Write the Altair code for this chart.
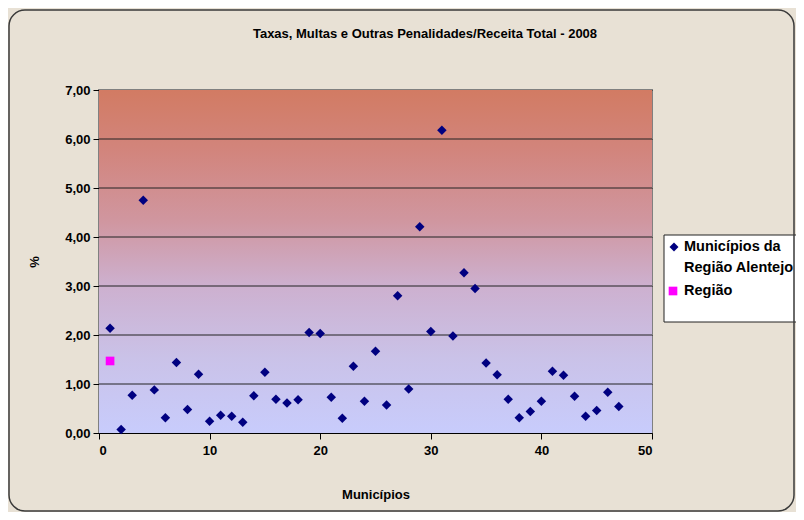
import altair as alt
import pandas as pd

municipios = list(range(1, 48))
valores = [2.14, 0.07, 0.77, 4.75, 0.88, 0.31, 1.44, 0.48, 1.20, 0.24,
           0.36, 0.34, 0.22, 0.76, 1.24, 0.69, 0.61, 0.68, 2.05, 2.03,
           0.73, 0.30, 1.36, 0.65, 1.67, 0.57, 2.80, 0.90, 4.21, 2.07,
           6.18, 1.98, 3.27, 2.95, 1.43, 1.19, 0.69, 0.31, 0.44, 0.65,
           1.26, 1.18, 0.75, 0.34, 0.46, 0.83, 0.54]
regiao_x = [1]
regiao_y = [1.47]

serie_mun = "Municípios da Região Alentejo"
serie_reg = "Região"
legend_lines = ["Municípios da", "Região Alentejo", "Região"]
titulo = "Taxas, Multas e Outras Penalidades/Receita Total - 2008"

df = pd.DataFrame({"x": municipios + regiao_x, "y": valores + regiao_y,
                   "serie": [serie_mun] * len(municipios) + [serie_reg] * len(regiao_x)})
bg = pd.DataFrame({"x0": [0], "x1": [50], "y0": [0], "y1": [7]})

FONT = "Liberation Sans"
W, H = 553, 343

xs = alt.Scale(domain=[0, 50], nice=False, zero=False)
ys = alt.Scale(domain=[0, 7], nice=False)

grad = alt.LinearGradient(
    gradient="linear", x1=0, y1=1, x2=0, y2=0,
    stops=[alt.GradientStop(color="#C8CCFC", offset=0),
           alt.GradientStop(color="#CAC2E8", offset=0.22),
           alt.GradientStop(color="#CDB0CF", offset=0.43),
           alt.GradientStop(color="#D0969F", offset=0.62),
           alt.GradientStop(color="#D2857D", offset=0.82),
           alt.GradientStop(color="#D27B63", offset=1)])

frame = alt.Chart(bg).mark_rect(fill=None, stroke="#3A3A3A", strokeWidth=1.5,
                                cornerRadius=16).encode(
    x=alt.value(-90), x2=alt.value(695), y=alt.value(-80), y2=alt.value(421))

back = alt.Chart(bg).mark_rect(color=grad).encode(
    x=alt.X("x0:Q", scale=xs, title="Municípios",
            axis=alt.Axis(values=[0, 10, 20, 30, 40, 50], grid=False)),
    x2="x1:Q",
    y=alt.Y("y0:Q", scale=ys, title="%",
            axis=alt.Axis(values=[0, 1, 2, 3, 4, 5, 6, 7], grid=True,
                          labelExpr="replace(format(datum.value, '.2f'), '.', ',')")),
    y2="y1:Q",
)

grid = alt.Chart(pd.DataFrame({"g": [1, 2, 3, 4, 5, 6]})).mark_rule(
    color="#222222", strokeWidth=1).encode(y=alt.Y("g:Q", scale=ys))

pts = alt.Chart(df).mark_point(filled=True, opacity=1).encode(
    x=alt.X("x:Q", scale=xs),
    y=alt.Y("y:Q", scale=ys),
    color=alt.Color("serie:N", scale=alt.Scale(domain=[serie_mun, serie_reg],
                                                range=["#000080", "#FF00FF"]),
                    legend=None),
    shape=alt.Shape("serie:N", scale=alt.Scale(domain=[serie_mun, serie_reg],
                                                range=["diamond", "square"]),
                    legend=None),
    size=alt.Size("serie:N", scale=alt.Scale(domain=[serie_mun, serie_reg],
                                              range=[90, 75]), legend=None),
)

# chart title as a text mark (placed within the framed area)
title_txt = alt.Chart(bg).mark_text(text=titulo, align="center", baseline="middle",
                                    font=FONT, fontSize=13, fontWeight="bold",
                                    color="black").encode(
    x=alt.value(326), y=alt.value(-56))

# manual legend (box, symbols, labels)
leg_box = alt.Chart(bg).mark_rect(fill="white", stroke="#222222", strokeWidth=1).encode(
    x=alt.value(565), x2=alt.value(699), y=alt.value(145), y2=alt.value(232))
leg_sym1 = alt.Chart(bg).mark_point(shape="diamond", filled=True, opacity=1,
                                    color="#000080", size=80).encode(
    x=alt.value(575), y=alt.value(157))
leg_sym2 = alt.Chart(bg).mark_point(shape="square", filled=True, opacity=1,
                                    color="#FF00FF", size=75).encode(
    x=alt.value(574), y=alt.value(201))
leg_txt = [
    alt.Chart(bg).mark_text(text=t, align="left", baseline="middle", font=FONT,
                            fontSize=14.5, fontWeight="bold", color="black").encode(
        x=alt.value(585), y=alt.value(yy))
    for t, yy in zip(legend_lines, [157, 178, 201])
]

chart = alt.layer(back, grid, pts, leg_box, leg_sym1, leg_sym2, *leg_txt,
                  title_txt, frame).properties(
    width=W, height=H,
    background="#E8E1D5",
    padding={"left": 91, "top": 82, "right": 144, "bottom": 79},
    autosize=alt.AutoSizeParams(type="none"),
).configure_view(stroke="#808080", strokeWidth=2).configure_axis(
    labelFont=FONT, labelFontSize=13, labelFontWeight="bold", labelColor="black",
    titleFont=FONT, titleFontSize=13, titleFontWeight="bold", titleColor="black",
    domainColor="black", tickColor="black", tickSize=6, gridColor="#222222",
).configure_axisY(titlePadding=23, labelPadding=3, domain=True).configure_axisX(
    titlePadding=31, labelPadding=5)

chart.save("out.html", embed_options={"renderer": "svg", "actions": False})
